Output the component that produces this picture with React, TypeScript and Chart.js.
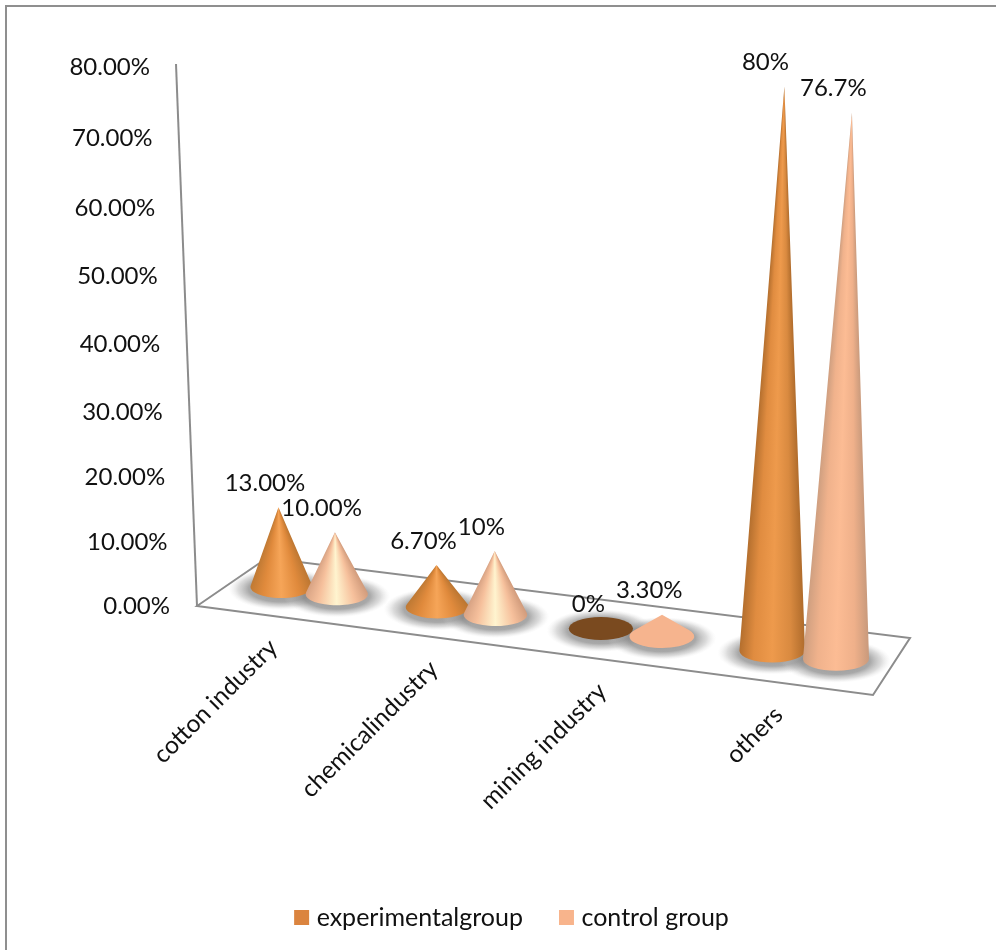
import React, { useEffect, useRef } from "react";
import { Chart, registerables, LinearScale, CategoryScale } from "chart.js";

const categories = ["cotton industry", "chemicalindustry", "mining industry", "others"];
const experimentalValues = [13, 6.7, 0, 80];
const controlValues = [10, 10, 3.3, 76.7];
const experimentalLabels = ["13.00%", "6.70%", "0%", "80%"];
const controlLabels = ["10.00%", "10%", "3.30%", "76.7%"];
const seriesNames = ["experimentalgroup", "control group"];
const yTicks = { min: 0, max: 80, step: 10 };

const FONT = "Lato, Carlito, sans-serif";
const TEXT = "#111111";
const AXIS = "#8c8c8c";

// Perspective of the floor: category positions spread out toward the viewer.
const projectX = (x: number) => 64.3 + 0.8311 * x + 0.0001357 * x * x;
const FLOOR_SLOPE = 0.1316;
const floorCentreY = (sx: number, area: any) => area.bottom + 0.13 * (sx - area.left) - 30;
const heightScale = (sx: number) => 0.945 + 0.0002 * (sx - 281);
const apexLean = (sx: number) => 0.00012 * (sx - 593);

class SlantedLinearScale extends LinearScale {
  static id = "slantedLinear";
  static defaults = LinearScale.defaults;
  // Upper values sit slightly further apart, as they do on a wall seen in perspective.
  getPixelForValue(value: number) {
    const t = (value - (this as any).min) / ((this as any).max - (this as any).min);
    return this.getPixelForDecimal(0.95 * t + 0.05 * t * t);
  }
  _computeLabelItems(chartArea: any) {
    const items = (super._computeLabelItems as any)(chartArea);
    const slant = 20 / (this.bottom - this.top);
    items.forEach((item: any) => {
      const [, y] = item.options.translation;
      const rise = this.bottom - y;
      item.options.translation = [this.right - 27 - rise * slant, y + Math.min(2.5, rise * 0.012)];
    });
    return items;
  }
  drawBorder() {
    const ctx = (this as any).ctx;
    ctx.save();
    ctx.strokeStyle = AXIS;
    ctx.lineWidth = 2;
    ctx.beginPath();
    ctx.moveTo(this.right, this.bottom);
    ctx.lineTo(this.right - 21, this.top - 1);
    ctx.stroke();
    ctx.restore();
  }
}

class FloorCategoryScale extends CategoryScale {
  static id = "floorCategory";
  static defaults = CategoryScale.defaults;
  _computeLabelItems(chartArea: any) {
    const items = (super._computeLabelItems as any)(chartArea);
    items.forEach((item: any) => {
      const [x] = item.options.translation;
      const sx = projectX(x);
      const y = this.top + FLOOR_SLOPE * (sx - this.left);
      item.options.translation = [sx - 26 + 0.024 * (sx - 309), y + 24 + 0.005 * (sx - 309)];
      item.options.textBaseline = "middle";
      item.textOffset = 0;
    });
    return items;
  }
}

Chart.register(...registerables, SlantedLinearScale, FloorCategoryScale);

const palettes = [
  {
    tall: ["#b06c2c", "#d98a40", "#ee9a4c", "#e08c40", "#b46f2e"],
    small: ["#bd7732", "#e08a3c", "#f6a558", "#e08a3c", "#c07a34"],
    flat: "#7a4a1f",
  },
  {
    tall: ["#c99a7c", "#efb08a", "#fcbc94", "#f0b28c", "#cf9f80"],
    small: ["#d29c7c", "#f6c09c", "#fff4cf", "#f6c09c", "#d8a384"],
    flat: "#f6b48e",
  },
];

function drawFloor(ctx: CanvasRenderingContext2D, area: any) {
  const { left, right, bottom } = area;
  const frontY = bottom + FLOOR_SLOPE * (right - left);
  ctx.save();
  ctx.strokeStyle = AXIS;
  ctx.lineWidth = 2;
  ctx.lineJoin = "miter";
  ctx.beginPath();
  ctx.moveTo(left, bottom);
  ctx.lineTo(right, frontY);
  ctx.lineTo(right + 37, frontY - 57);
  ctx.lineTo(left + 70, bottom - 48);
  ctx.closePath();
  ctx.stroke();
  ctx.restore();
}

function baseOf(el: any, area: any) {
  const cx = projectX(el.x);
  const cy = floorCentreY(cx, area);
  const rx = el.width * (0.508 + 0.00006 * (cx - 281));
  return { cx, cy, rx, ry: rx * 0.355 };
}

function drawShadow(ctx: CanvasRenderingContext2D, el: any, area: any) {
  const { cx, cy, rx, ry } = baseOf(el, area);
  ctx.save();
  ctx.translate(cx, cy + 2);
  ctx.scale(rx + 22, ry + 10);
  const g = ctx.createRadialGradient(0, 0, 0, 0, 0, 1);
  g.addColorStop(0, "rgba(125,125,125,0.85)");
  g.addColorStop(0.62, "rgba(135,135,135,0.72)");
  g.addColorStop(0.82, "rgba(170,170,170,0.42)");
  g.addColorStop(1, "rgba(220,220,220,0)");
  ctx.fillStyle = g;
  ctx.beginPath();
  ctx.arc(0, 0, 1, 0, Math.PI * 2);
  ctx.fill();
  ctx.restore();
}

function apexOf(el: any, area: any) {
  const { cx, cy } = baseOf(el, area);
  const h = (el.base - el.y) * heightScale(cx);
  return { ax: cx + apexLean(cx) * h, ay: cy - h };
}

function drawCone(ctx: CanvasRenderingContext2D, el: any, area: any, value: number, datasetIndex: number) {
  const { cx, cy, rx, ry } = baseOf(el, area);
  const colours = palettes[datasetIndex];
  ctx.save();
  if (value === 0) {
    ctx.fillStyle = colours.flat;
    ctx.beginPath();
    ctx.ellipse(cx, cy, rx, ry, 0, 0, Math.PI * 2);
    ctx.fill();
    ctx.restore();
    return;
  }
  const { ax, ay } = apexOf(el, area);
  const a1 = Math.atan2(cy - ay, cx + rx - ax);
  const a2 = Math.atan2(cy - ay, cx - rx - ax);
  const span = (a2 - a1) / (Math.PI * 2);
  const stops = value > 50 ? colours.tall : value < 5 ? [colours.flat, colours.flat, colours.flat, colours.flat, colours.flat] : colours.small;
  const fan = ctx.createConicGradient(a1, ax, ay);
  const at = [0, 0.22, 0.5, 0.78, 1];
  stops.forEach((c, i) => fan.addColorStop(at[i] * span, c));
  fan.addColorStop(Math.min(1, span + 0.001), stops[4]);
  fan.addColorStop(1, stops[0]);
  ctx.fillStyle = fan;
  // The sides meet the base ellipse at its tangent points as seen from the apex.
  const tilt = Math.asin(Math.min(0.95, ry / (cy - ay)));
  ctx.beginPath();
  ctx.moveTo(ax, ay);
  ctx.ellipse(cx, cy, rx, ry, 0, -tilt, Math.PI + tilt);
  ctx.closePath();
  ctx.fill();
  ctx.restore();
}

const conePlugin = {
  id: "cones",
  afterLayout(chart: any) {
    // The legend sits a little left of the plot's centre.
    chart.legend.left -= 21;
    chart.legend.right -= 21;
  },
  beforeDraw(chart: any) {
    const { ctx, width, height } = chart;
    ctx.save();
    ctx.strokeStyle = "#8f8f8f";
    ctx.lineWidth = 2;
    ctx.beginPath();
    ctx.moveTo(6, height);
    ctx.lineTo(6, 6);
    ctx.lineTo(width, 6);
    ctx.stroke();
    ctx.restore();
  },
  beforeDatasetsDraw(chart: any) {
    const { ctx, chartArea } = chart;
    drawFloor(ctx, chartArea);
    chart.data.datasets.forEach((_: any, d: number) => {
      chart.getDatasetMeta(d).data.forEach((el: any) => drawShadow(ctx, el, chartArea));
    });
    chart.data.labels.forEach((_: any, i: number) => {
      chart.data.datasets.forEach((ds: any, d: number) => {
        drawCone(ctx, chart.getDatasetMeta(d).data[i], chartArea, ds.data[i], d);
      });
    });
  },
  beforeDatasetDraw() {
    return false;
  },
  afterDatasetsDraw(chart: any) {
    const { ctx, chartArea } = chart;
    const texts = [experimentalLabels, controlLabels];
    ctx.save();
    ctx.font = `24px ${FONT}`;
    ctx.fillStyle = TEXT;
    ctx.textAlign = "center";
    ctx.textBaseline = "middle";
    chart.data.datasets.forEach((ds: any, d: number) => {
      chart.getDatasetMeta(d).data.forEach((el: any, i: number) => {
        const v = ds.data[i];
        const { ax, ay } = apexOf(el, chartArea);
        ctx.fillText(texts[d][i], ax - 12.5 - 0.08 * v, ay - 24);
      });
    });
    ctx.restore();
  },
};

export default function App() {
  const ref = useRef<HTMLCanvasElement>(null);
  useEffect(() => {
    const chart = new Chart(ref.current as HTMLCanvasElement, {
      type: "bar",
      data: {
        labels: categories,
        datasets: [
          { label: seriesNames[0], data: experimentalValues, backgroundColor: "#db843f", categoryPercentage: 0.722, barPercentage: 1 },
          { label: seriesNames[1], data: controlValues, backgroundColor: "#f8b48c", categoryPercentage: 0.722, barPercentage: 1 },
        ],
      },
      options: {
        responsive: false,
        animation: false,
        layout: { padding: { top: 65, right: 123, left: 0, bottom: 10 } },
        scales: {
          x: {
            type: "floorCategory",
            grid: { display: false, drawTicks: false },
            border: { display: false },
            ticks: { autoSkip: false, minRotation: 45, maxRotation: 45, color: TEXT, font: { family: FONT, size: 24.5 } },
            afterFit(scale: any) {
              scale.height = 258;
            },
          },
          y: {
            type: "slantedLinear",
            min: yTicks.min,
            max: yTicks.max,
            grid: { display: false, drawTicks: false },
            border: { display: true },
            ticks: {
              stepSize: yTicks.step,
              color: TEXT,
              font: { family: FONT, size: 24 },
              callback: (v: any) => Number(v).toFixed(2) + "%",
            },
            afterFit(scale: any) {
              scale.width = 197;
            },
          },
        },
        plugins: {
          tooltip: { enabled: false },
          legend: {
            position: "bottom",
            fullSize: false,
            labels: {
              color: TEXT,
              font: { family: FONT, size: 25 },
              boxWidth: 5,
              boxHeight: 5,
              padding: 41,
              generateLabels: (c: any) =>
                c.data.datasets.map((ds: any, i: number) => ({
                  text: ds.label,
                  fillStyle: ds.backgroundColor,
                  strokeStyle: ds.backgroundColor,
                  lineWidth: 10,
                  datasetIndex: i,
                  fontColor: TEXT,
                })),
            },
          },
        },
      } as any,
      plugins: [conePlugin as any],
    });
    return () => chart.destroy();
  }, []);
  return (
    <div style={{ position: "absolute", left: 0, top: 0, width: 996, height: 950 }}>
      <canvas ref={ref} width={996} height={950} style={{ display: "block" }} />
    </div>
  );
}
